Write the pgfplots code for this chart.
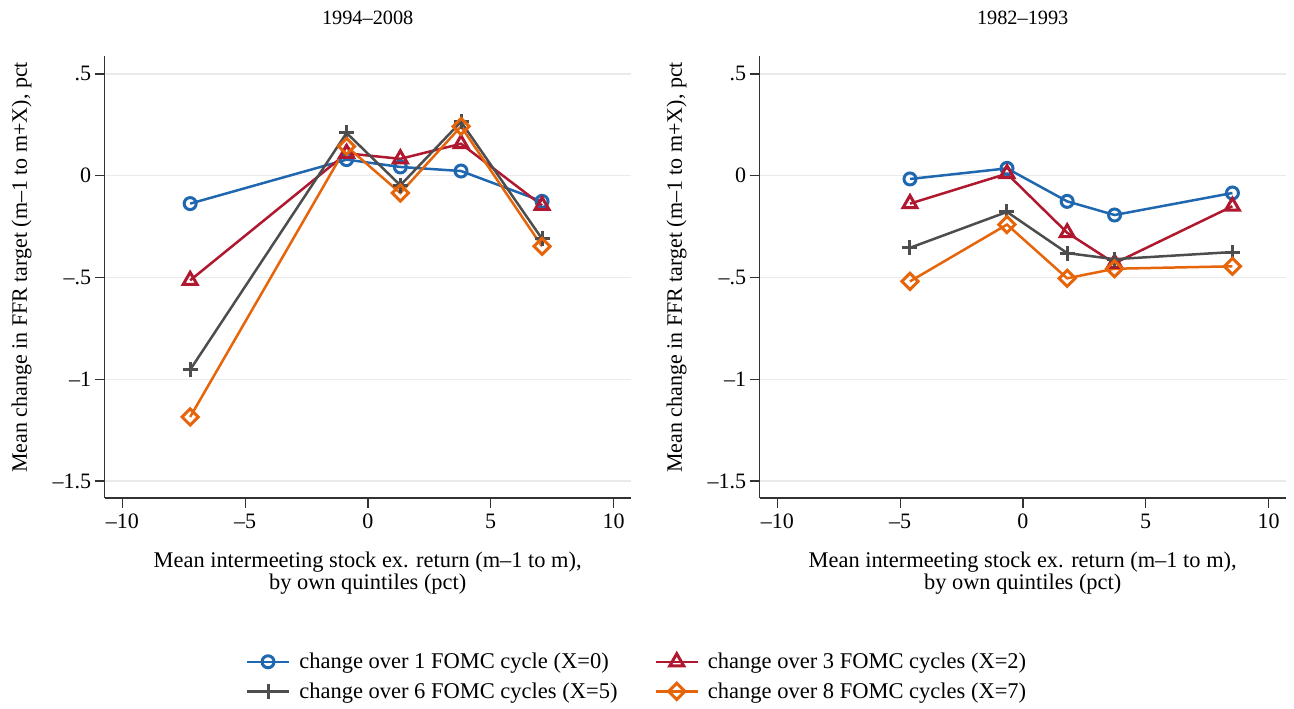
\documentclass[border=0pt]{standalone}
\usepackage{fontspec}
\setmainfont{Liberation Serif}
\usepackage{pgfplots}
\pgfplotsset{compat=1.18}
\definecolor{cblue}{RGB}{31,104,176}
\definecolor{cred}{RGB}{176,24,48}
\definecolor{cgray}{RGB}{77,77,77}
\definecolor{corange}{RGB}{230,100,10}
\definecolor{gridc}{RGB}{234,234,234}
\definecolor{axc}{RGB}{50,50,50}

\pgfplotsset{
  panel/.style={
    width=526bp, height=442bp, scale only axis,
    anchor=south west,
    xmin=-10.72, xmax=10.70, ymin=-1.583, ymax=0.588,
    axis x line*=bottom, axis y line*=left,
    axis line style={line width=1.3bp, color=axc},
    xtick={-10,-5,0,5,10}, xticklabels={--10,--5,0,5,10},
    ytick={-1.5,-1,-0.5,0,0.5}, yticklabels={--1.5,--1,--.5,0,.5},
    tick align=outside, major tick length=10bp,
    tick style={line width=1.3bp, color=axc},
    tick label style={font=\fontsize{22bp}{24bp}\selectfont},
    xticklabel style={yshift=-2.5bp},
    ymajorgrids, grid style={line width=1.5bp, color=gridc},
    font=\fontsize{20bp}{24bp}\selectfont,
    title style={at={(axis description cs:0.5,1.073)}, anchor=center, font=\fontsize{20.3bp}{24bp}\selectfont},
    xlabel style={at={(axis description cs:0.5,-0.170)}, anchor=center, align=center, font=\fontsize{22.4bp}{22.5bp}\selectfont},
    ylabel style={at={(axis description cs:-0.158,0.5215)}, anchor=center, font=\fontsize{22bp}{24bp}\selectfont},
    xlabel={Mean intermeeting stock ex. return (m--1 to m),\\by own quintiles (pct)},
    ylabel={Mean change in FFR target (m--1 to m+X), pct},
    clip=false,
    legend image code/.code={\draw[mark repeat=2,mark phase=2,##1] plot coordinates {(0bp,0bp) (21bp,0bp) (42bp,0bp)};},
  },
  sA/.style={color=cblue, line width=2.5bp, mark=o, mark size=6bp, mark options={line width=3bp, fill=none, solid}},
  sB/.style={color=cred, line width=2.5bp, mark=triangle, mark size=8bp, mark options={line width=3bp, fill=none, solid}},
  sC/.style={color=cgray, line width=2.5bp, mark=+, mark size=7.5bp, mark options={line width=3bp, solid}},
  sD/.style={color=corange, line width=2.5bp, mark=square, mark size=5.7bp, mark options={line width=3bp, fill=none, solid, rotate=45}},
}

\begin{document}
\begin{tikzpicture}
\useasboundingbox (0,0) rectangle (1294bp,709bp);
\begin{axis}[panel, at={(104.7bp,211bp)}, title={1994--2008},
  legend columns=2,
  legend cell align=left,
  legend style={at={(axis description cs:1.012,-0.404)}, anchor=center, draw=none, fill=none,
    font=\fontsize{22.5bp}{24bp}\selectfont, row sep=8.5bp,
    /tikz/every odd column/.append style={column sep=7bp},
    /tikz/every even column/.append style={column sep=35bp}},
]
\addplot[sA] coordinates {(-7.24,-0.137) (-0.87,0.079) (1.32,0.043) (3.79,0.023) (7.09,-0.126)};
\addlegendentry{change over 1 FOMC cycle (X=0)}
\addplot[sB] coordinates {(-7.24,-0.514) (-0.87,0.11) (1.32,0.083) (3.79,0.157) (7.09,-0.146)};
\addlegendentry{change over 3 FOMC cycles (X=2)}
\addplot[sC] coordinates {(-7.24,-0.953) (-0.87,0.21) (1.32,-0.047) (3.79,0.265) (7.09,-0.31)};
\addlegendentry{change over 6 FOMC cycles (X=5)}
\addplot[sD] coordinates {(-7.24,-1.185) (-0.87,0.144) (1.32,-0.085) (3.79,0.242) (7.09,-0.347)};
\addlegendentry{change over 8 FOMC cycles (X=7)}
\end{axis}
\begin{axis}[panel, at={(759.7bp,211bp)}, title={1982--1993}]
\addplot[sA] coordinates {(-4.6,-0.016) (-0.65,0.036) (1.8,-0.126) (3.73,-0.193) (8.53,-0.085)};
\addplot[sB] coordinates {(-4.6,-0.137) (-0.65,0.01) (1.8,-0.28) (3.73,-0.43) (8.53,-0.15)};
\addplot[sC] coordinates {(-4.6,-0.354) (-0.65,-0.178) (1.8,-0.38) (3.73,-0.41) (8.53,-0.375)};
\addplot[sD] coordinates {(-4.6,-0.519) (-0.65,-0.24) (1.8,-0.504) (3.73,-0.457) (8.53,-0.445)};
\end{axis}
\end{tikzpicture}
\end{document}
